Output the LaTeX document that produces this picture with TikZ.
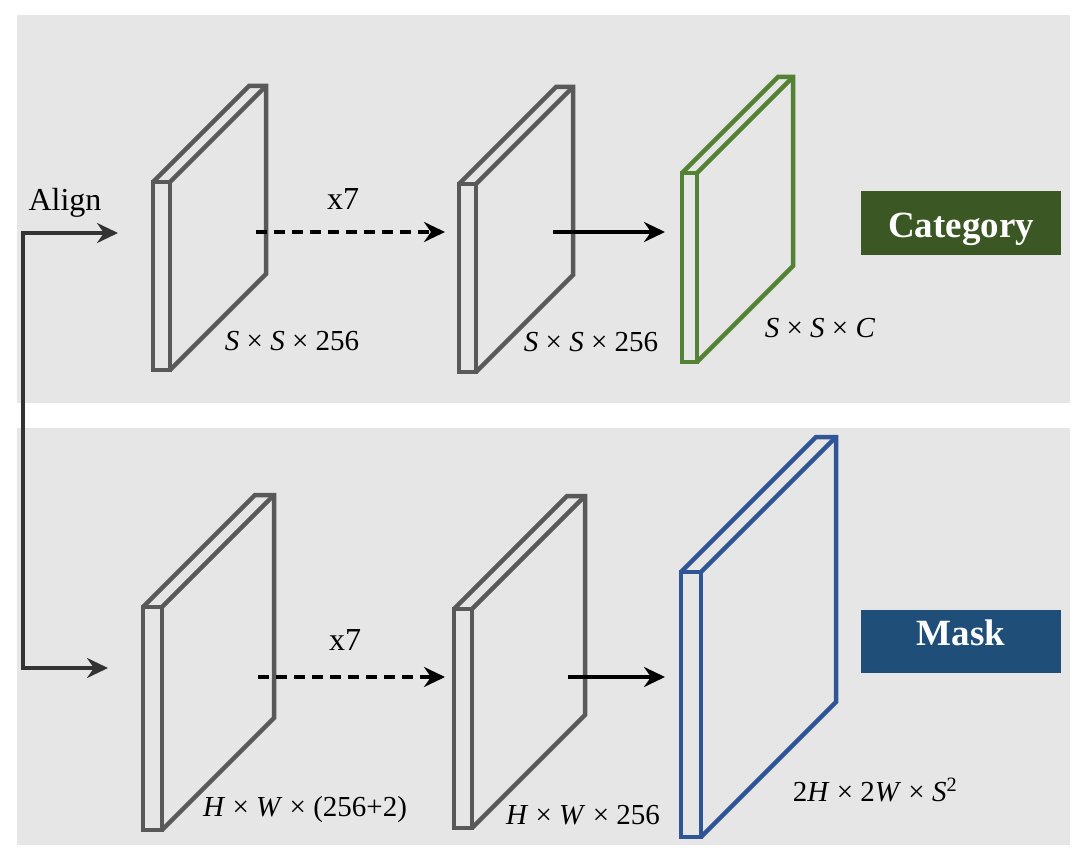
\documentclass[tikz,border=0pt]{standalone}
\usepackage{fontspec}
\setmainfont{Liberation Serif}
\usetikzlibrary{arrows.meta}
\definecolor{panelbg}{HTML}{E6E6E6}
\definecolor{plategray}{HTML}{595959}
\definecolor{plategreen}{HTML}{548235}
\definecolor{plateblue}{HTML}{2F5597}
\definecolor{catfill}{HTML}{3A5724}
\definecolor{maskfill}{HTML}{1F4E79}
\definecolor{linedark}{HTML}{333333}
\newcommand{\featplate}[6]{%
  \draw[plate,#6] (#1,#2) rectangle ++(#3,#4);
  \draw[plate,#6] (#1,#2) -- ++(#5,-#5) -- ++(#3,0) -- ++(0,#4) -- ++(-#5,#5);
  \draw[plate,#6] (#1+#3,#2) -- ++(#5,-#5);
}
\tikzset{
  plate/.style={line width=4.5pt, line join=miter},
  tip/.tip={Stealth[length=21pt,width=20pt,inset=7pt]},
  flow/.style={line width=4pt, -tip},
  dashflow/.style={flow, dash pattern=on 11pt off 7pt},
  lbl/.style={font=\fontsize{29}{32}\selectfont, inner sep=0pt},
  biglbl/.style={font=\fontsize{32}{36}\selectfont, inner sep=0pt},
  tag/.style={font=\fontsize{37}{40}\selectfont\bfseries, text=white, minimum width=200pt, inner sep=0pt}
}
\begin{document}
\begin{tikzpicture}[x=1pt,y=-1pt]
\useasboundingbox (0,0) rectangle (1080,856);
\fill[white] (0,0) rectangle (1080,856);
\fill[panelbg] (17,15) rectangle (1070,403);
\fill[panelbg] (17,428) rectangle (1070,845);

% plates, top row
\featplate{153}{182}{17}{188}{96}{plategray}
\featplate{459}{184}{17}{188}{97}{plategray}
\featplate{682}{173}{15}{189}{96}{plategreen}
% plates, bottom row
\featplate{143}{607}{19}{223}{112}{plategray}
\featplate{454}{609}{18}{219}{113}{plategray}
\featplate{681}{572}{20}{265}{135}{plateblue}

% coordinates for connectors
\coordinate (alignTopEnd) at (118,233);
\coordinate (alignTopCorner) at (23,233);
\coordinate (alignBotCorner) at (23,668);
\coordinate (alignBotEnd) at (108,668);
\coordinate (t1s) at (256,232);
\coordinate (t1e) at (445,232);
\coordinate (t2s) at (553,232);
\coordinate (t2e) at (665,232);
\coordinate (b1s) at (258,677);
\coordinate (b1e) at (445,677);
\coordinate (b2s) at (568,677);
\coordinate (b2e) at (665,677);

\draw[line width=4pt, tip-tip, draw=linedark, line join=miter]
  (alignTopEnd) -- (alignTopCorner) -- (alignBotCorner) -- (alignBotEnd);
\draw[dashflow] (t1s) -- (t1e);
\draw[flow] (t2s) -- (t2e);
\draw[dashflow] (b1s) -- (b1e);
\draw[flow] (b2s) -- (b2e);

% texts
\node[biglbl] (align) at (65,203) {Align};
\node[biglbl] (rep1) at (343,199) {x7};
\node[biglbl] (rep2) at (345,640) {x7};
\node[lbl] (d1) at (292,341) {\textit{S} × \textit{S} × 256};
\node[lbl] (d2) at (591,342) {\textit{S} × \textit{S} × 256};
\node[lbl] (d3) at (820,328) {\textit{S} × \textit{S} × \textit{C}};
\node[lbl] (d4) at (305,810) {\textit{H} × \textit{W} × (256+2)};
\node[lbl] (d5) at (583,815) {\textit{H} × \textit{W} × 256};
\node[lbl] (d6) at (875,790) {2\textit{H} × 2\textit{W} × \textit{S}\textsuperscript{2}};

\node[tag, fill=catfill, text height=46pt, text depth=18pt] (cat) at (961,223) {Category};
\node[tag, fill=maskfill, text height=35pt, text depth=28pt] (mask) at (961,641.5) {Mask};
\end{tikzpicture}
\end{document}
